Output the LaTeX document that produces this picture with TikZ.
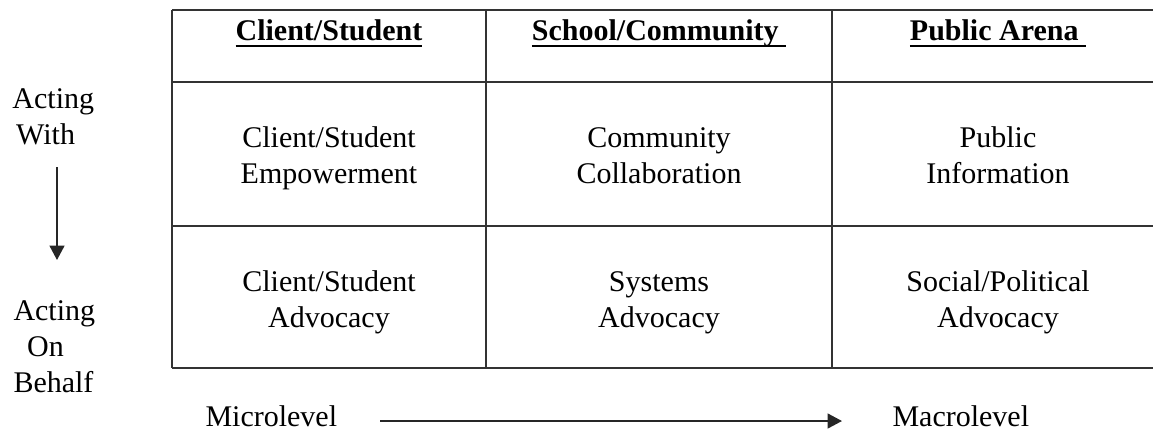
\documentclass[tikz,border=0pt]{standalone}
\usepackage{fontspec}
\setmainfont{Liberation Serif}
\usetikzlibrary{arrows.meta}
\newcommand{\ulbold}[1]{\setbox0\hbox{\bfseries #1}\rlap{\rule[-2.6pt]{\wd0}{0.75pt}}\box0}
\tikzset{
  grid/.style={line width=0.6pt, draw=black!80},
  txt/.style={inner sep=0pt, font=\fontsize{12}{14.4}\selectfont, text=black},
  cell/.style={txt, align=center, anchor=base},
  hdr/.style={txt, anchor=base},
  side/.style={txt, align=left, anchor=base west},
  arr/.style={line width=0.7pt, draw=black!85, -{Triangle[length=5.8pt,width=6pt]}},
}
\begin{document}
\begin{tikzpicture}[x=0.4pt,y=-0.4pt]
\useasboundingbox (0,0) rectangle (1153,429);
% table lines
\draw[grid] (172,10) -- (1153,10);
\draw[grid] (172,82) -- (1153,82);
\draw[grid] (172,226) -- (1153,226);
\draw[grid] (172,368) -- (1153,368);
\draw[grid] (172,10) -- (172,368);
\draw[grid] (486,10) -- (486,368);
\draw[grid] (832,10) -- (832,368);
% headers
\node[hdr] (h1) at (329,40) {\ulbold{Client/Student}};
\node[hdr] (h2) at (659,40) {\ulbold{School/Community\ }};
\node[hdr] (h3) at (998,40) {\ulbold{Public Arena\ }};
% cells (anchor base = baseline of the last line)
\node[cell] (c11) at (329,183) {Client/Student\\Empowerment};
\node[cell] (c12) at (659,183) {Community\\Collaboration};
\node[cell] (c13) at (998,183) {Public\\Information};
\node[cell] (c21) at (329,327) {Client/Student\\Advocacy};
\node[cell] (c22) at (659,327) {Systems\\Advocacy};
\node[cell] (c23) at (998,327) {Social/Political\\Advocacy};
% side labels
\node[side] (with) at (12,144) {Acting\\\hspace{1.5pt}With};
\node[side] (behalf) at (13,392) {Acting\\\hspace{5.5pt}On\\Behalf};
\coordinate (vs) at (57,167);
\coordinate (ve) at (57,260);
\draw[arr] (vs) -- (ve);
% bottom labels
\node[txt, anchor=base west] (micro) at (205,426) {Microlevel};
\node[txt, anchor=base west] (macro) at (892,426) {Macrolevel};
\coordinate (hs) at (380,421);
\coordinate (he) at (842,421);
\draw[arr] (hs) -- (he);
\end{tikzpicture}
\end{document}
